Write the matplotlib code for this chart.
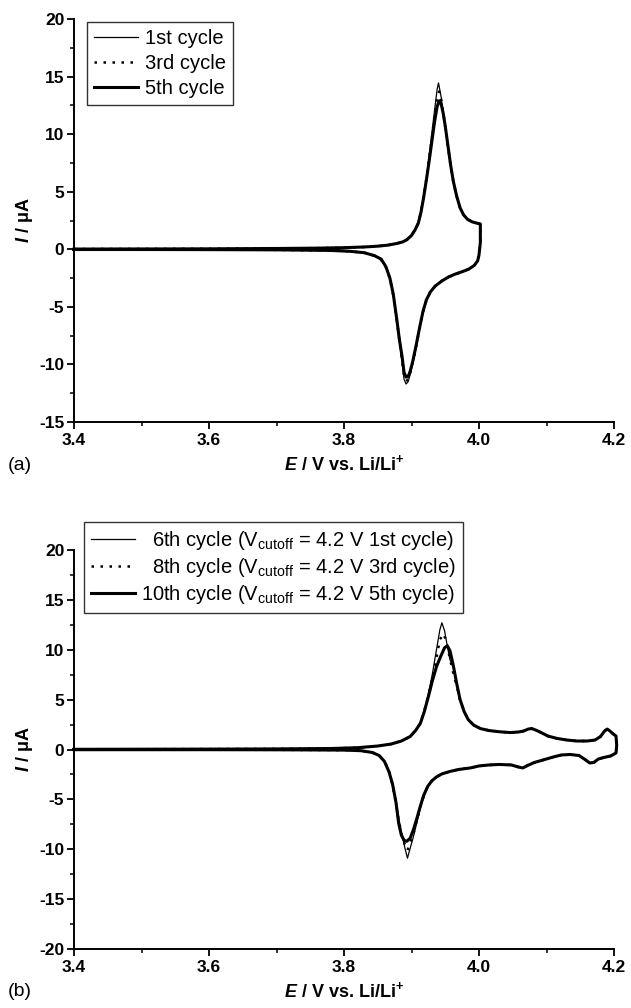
import matplotlib

matplotlib.use("Agg")
import matplotlib.pyplot as plt
from matplotlib.ticker import MultipleLocator, FormatStrFormatter

# ---- panel (a): cycles 1, 3, 5 (E in V, I in uA) ----
a_v1 = [3.40, 3.50, 3.60, 3.70, 3.76, 3.80, 3.83, 3.85, 3.865, 3.878, 3.887, 3.893, 3.900, 3.905, 3.910,
        3.914, 3.918, 3.922, 3.926, 3.930, 3.934, 3.938, 3.940, 3.944, 3.947, 3.950, 3.954, 3.958, 3.962,
        3.967, 3.972, 3.977, 3.983, 3.990, 3.996, 4.002,
        4.002, 4.000, 3.998, 3.993, 3.985, 3.975, 3.965, 3.955, 3.945, 3.935, 3.928, 3.922, 3.917, 3.912,
        3.907, 3.902, 3.898, 3.895, 3.892, 3.889, 3.886, 3.882, 3.878, 3.873, 3.868, 3.862, 3.855, 3.845,
        3.83, 3.81, 3.78, 3.70, 3.60, 3.50, 3.40]
a_i1 = [0.02, 0.03, 0.04, 0.07, 0.10, 0.14, 0.20, 0.27, 0.36, 0.50, 0.66, 0.85, 1.25, 1.72, 2.35,
        3.35, 4.70, 6.20, 8.00, 10.00, 12.00, 13.90, 14.45, 13.20, 11.80, 10.50, 8.80, 7.20, 5.80,
        4.55, 3.55, 2.98, 2.60, 2.38, 2.28, 2.20,
        0.60, -0.50, -1.00, -1.40, -1.72, -1.95, -2.15, -2.40, -2.75, -3.20, -3.70, -4.45, -5.50, -6.90,
        -8.50, -9.90, -10.90, -11.50, -11.70, -11.30, -9.80, -8.00, -6.10, -4.00, -2.60, -1.55, -0.90, -0.55,
        -0.30, -0.18, -0.10, -0.05, -0.03, -0.02, -0.02]

a_v3 = [3.40, 3.50, 3.60, 3.70, 3.76, 3.80, 3.83, 3.85, 3.865, 3.878, 3.887, 3.893, 3.900, 3.905, 3.910,
        3.914, 3.918, 3.922, 3.926, 3.930, 3.934, 3.938, 3.941, 3.944, 3.947, 3.950, 3.954, 3.958, 3.962,
        3.967, 3.972, 3.977, 3.983, 3.990, 3.996, 4.002,
        4.002, 4.000, 3.998, 3.993, 3.985, 3.975, 3.965, 3.955, 3.945, 3.935, 3.928, 3.922, 3.917, 3.912,
        3.907, 3.902, 3.898, 3.895, 3.892, 3.889, 3.886, 3.882, 3.878, 3.873, 3.868, 3.862, 3.855, 3.845,
        3.83, 3.81, 3.78, 3.70, 3.60, 3.50, 3.40]
a_i3 = [0.02, 0.03, 0.04, 0.07, 0.10, 0.14, 0.20, 0.27, 0.36, 0.50, 0.65, 0.83, 1.22, 1.68, 2.30,
        3.25, 4.60, 6.10, 7.80, 9.60, 11.50, 13.20, 13.70, 13.00, 11.90, 10.60, 8.90, 7.25, 5.85,
        4.58, 3.58, 3.00, 2.60, 2.38, 2.28, 2.20,
        0.60, -0.50, -1.00, -1.40, -1.72, -1.95, -2.15, -2.40, -2.75, -3.20, -3.70, -4.42, -5.45, -6.85,
        -8.40, -9.80, -10.75, -11.30, -11.45, -11.00, -9.55, -7.90, -6.05, -4.00, -2.55, -1.55, -0.90, -0.55,
        -0.30, -0.18, -0.10, -0.05, -0.03, -0.02, -0.02]

a_v5 = [3.40, 3.50, 3.60, 3.70, 3.76, 3.80, 3.83, 3.85, 3.865, 3.878, 3.887, 3.893, 3.900, 3.905, 3.910,
        3.914, 3.918, 3.922, 3.926, 3.930, 3.934, 3.938, 3.941, 3.944, 3.947, 3.950, 3.954, 3.958, 3.962,
        3.967, 3.972, 3.977, 3.983, 3.990, 3.996, 4.002,
        4.002, 4.000, 3.998, 3.993, 3.985, 3.975, 3.965, 3.955, 3.945, 3.935, 3.928, 3.922, 3.917, 3.912,
        3.907, 3.902, 3.898, 3.895, 3.892, 3.889, 3.886, 3.882, 3.878, 3.873, 3.868, 3.862, 3.855, 3.845,
        3.83, 3.81, 3.78, 3.70, 3.60, 3.50, 3.40]
a_i5 = [0.02, 0.03, 0.04, 0.07, 0.10, 0.14, 0.20, 0.27, 0.36, 0.50, 0.64, 0.82, 1.20, 1.65, 2.25,
        3.20, 4.50, 6.00, 7.60, 9.30, 11.00, 12.40, 12.90, 12.60, 11.80, 10.70, 9.00, 7.30, 5.90,
        4.60, 3.60, 3.00, 2.60, 2.38, 2.28, 2.20,
        0.60, -0.50, -1.00, -1.40, -1.72, -1.95, -2.15, -2.40, -2.75, -3.20, -3.70, -4.40, -5.40, -6.80,
        -8.30, -9.70, -10.60, -11.05, -11.10, -10.70, -9.30, -7.80, -6.00, -3.90, -2.50, -1.50, -0.85, -0.55,
        -0.30, -0.18, -0.10, -0.05, -0.03, -0.02, -0.02]

# ---- panel (b): cycles 6, 8, 10 after 4.2 V cutoff ----
b_v6 = [3.40, 3.50, 3.60, 3.70, 3.78, 3.82, 3.85, 3.87, 3.885, 3.898, 3.906, 3.913, 3.919, 3.925, 3.931,
        3.937, 3.942, 3.945, 3.949, 3.953, 3.957, 3.962, 3.967, 3.972, 3.978, 3.984, 3.992, 4.002, 4.015,
        4.030, 4.046, 4.058, 4.066, 4.073, 4.078, 4.084, 4.092, 4.102, 4.115, 4.130, 4.145, 4.160, 4.172,
        4.180, 4.186, 4.190, 4.194, 4.199, 4.203,
        4.204, 4.203, 4.195, 4.185, 4.177, 4.170, 4.164, 4.157, 4.148, 4.135, 4.122, 4.110, 4.095, 4.082,
        4.072, 4.065, 4.058, 4.048, 4.030, 4.015, 4.000, 3.987, 3.970, 3.957, 3.945, 3.937, 3.930, 3.924,
        3.918, 3.913, 3.908, 3.903, 3.898, 3.894, 3.890, 3.885, 3.881, 3.877, 3.872, 3.867, 3.860, 3.852,
        3.842, 3.825, 3.80, 3.70, 3.60, 3.50, 3.40]
b_i6 = [0.02, 0.03, 0.04, 0.06, 0.10, 0.18, 0.35, 0.55, 0.85, 1.30, 1.95, 2.70, 3.95, 5.60, 7.60,
        10.00, 12.00, 12.70, 11.90, 10.40, 9.00, 8.20, 6.50, 4.95, 3.78, 3.00, 2.45, 2.10, 1.90,
        1.78, 1.70, 1.75, 1.85, 2.05, 2.10, 1.95, 1.70, 1.35, 1.12, 0.95, 0.85, 0.85, 0.95,
        1.30, 1.85, 2.05, 1.85, 1.55, 1.35,
        0.40, -0.35, -0.65, -0.80, -0.95, -1.30, -1.35, -1.00, -0.60, -0.50, -0.55, -0.75, -1.05, -1.30,
        -1.60, -1.85, -1.75, -1.55, -1.50, -1.55, -1.65, -1.85, -2.00, -2.20, -2.45, -2.75, -3.15, -3.75,
        -4.75, -5.90, -7.30, -8.70, -9.90, -10.90, -9.80, -8.30, -6.90, -5.10, -3.40, -2.20, -1.15, -0.60,
        -0.30, -0.12, -0.06, -0.03, -0.02, -0.02, -0.02]

b_v8 = [3.40, 3.50, 3.60, 3.70, 3.78, 3.82, 3.85, 3.87, 3.885, 3.898, 3.906, 3.913, 3.919, 3.925, 3.931,
        3.937, 3.942, 3.947, 3.951, 3.955, 3.959, 3.963, 3.967, 3.972, 3.978, 3.984, 3.992, 4.002, 4.015,
        4.030, 4.046, 4.058, 4.066, 4.073, 4.078, 4.084, 4.092, 4.102, 4.115, 4.130, 4.145, 4.160, 4.172,
        4.180, 4.186, 4.190, 4.194, 4.199, 4.203,
        4.204, 4.203, 4.195, 4.185, 4.177, 4.170, 4.164, 4.157, 4.148, 4.135, 4.122, 4.110, 4.095, 4.082,
        4.072, 4.065, 4.058, 4.048, 4.030, 4.015, 4.000, 3.987, 3.970, 3.957, 3.945, 3.937, 3.930, 3.924,
        3.918, 3.913, 3.908, 3.903, 3.898, 3.894, 3.890, 3.885, 3.881, 3.877, 3.872, 3.867, 3.860, 3.852,
        3.842, 3.825, 3.80, 3.70, 3.60, 3.50, 3.40]
b_i8 = [0.02, 0.03, 0.04, 0.06, 0.10, 0.18, 0.35, 0.55, 0.85, 1.30, 1.92, 2.65, 3.90, 5.45, 7.20,
        9.20, 11.00, 11.60, 11.00, 9.70, 8.50, 7.30, 6.40, 4.95, 3.78, 3.00, 2.45, 2.10, 1.90,
        1.78, 1.70, 1.75, 1.85, 2.05, 2.10, 1.95, 1.70, 1.35, 1.12, 0.95, 0.85, 0.85, 0.95,
        1.30, 1.85, 2.05, 1.85, 1.55, 1.35,
        0.40, -0.35, -0.65, -0.80, -0.95, -1.30, -1.35, -1.00, -0.60, -0.50, -0.55, -0.75, -1.05, -1.30,
        -1.60, -1.85, -1.75, -1.55, -1.50, -1.55, -1.65, -1.85, -2.00, -2.20, -2.45, -2.75, -3.15, -3.72,
        -4.70, -5.80, -7.10, -8.40, -9.40, -10.10, -9.50, -8.40, -7.10, -5.40, -3.60, -2.25, -1.18, -0.60,
        -0.30, -0.12, -0.06, -0.03, -0.02, -0.02, -0.02]

b_v10 = [3.40, 3.50, 3.60, 3.70, 3.78, 3.82, 3.85, 3.87, 3.885, 3.898, 3.906, 3.913, 3.919, 3.925, 3.931,
         3.937, 3.943, 3.949, 3.953, 3.957, 3.962, 3.967, 3.972, 3.978, 3.984, 3.992, 4.002, 4.015, 4.030,
         4.046, 4.058, 4.066, 4.073, 4.078, 4.084, 4.092, 4.102, 4.115, 4.130, 4.145, 4.160, 4.172, 4.180,
         4.186, 4.190, 4.194, 4.199, 4.203,
         4.204, 4.203, 4.195, 4.185, 4.177, 4.170, 4.164, 4.157, 4.148, 4.135, 4.122, 4.110, 4.095, 4.082,
         4.072, 4.065, 4.058, 4.048, 4.030, 4.015, 4.000, 3.987, 3.970, 3.957, 3.945, 3.937, 3.930, 3.924,
         3.918, 3.913, 3.908, 3.903, 3.898, 3.893, 3.889, 3.885, 3.881, 3.877, 3.872, 3.867, 3.860, 3.852,
         3.842, 3.825, 3.80, 3.70, 3.60, 3.50, 3.40]
b_i10 = [0.02, 0.03, 0.04, 0.06, 0.10, 0.18, 0.35, 0.55, 0.85, 1.30, 1.90, 2.60, 3.80, 5.30, 6.90,
         8.30, 9.30, 10.20, 10.40, 9.90, 8.40, 6.60, 5.00, 3.80, 3.00, 2.45, 2.10, 1.90, 1.78,
         1.70, 1.75, 1.85, 2.05, 2.10, 1.95, 1.70, 1.35, 1.12, 0.95, 0.85, 0.85, 0.95, 1.30,
         1.85, 2.05, 1.85, 1.55, 1.35,
         0.40, -0.35, -0.65, -0.80, -0.95, -1.30, -1.35, -1.00, -0.60, -0.50, -0.55, -0.75, -1.05, -1.30,
         -1.60, -1.85, -1.75, -1.55, -1.50, -1.55, -1.65, -1.85, -2.00, -2.20, -2.45, -2.75, -3.15, -3.70,
         -4.60, -5.70, -6.90, -8.00, -8.90, -9.20, -9.10, -8.60, -7.40, -5.30, -3.50, -2.30, -1.20, -0.60,
         -0.30, -0.12, -0.06, -0.03, -0.02, -0.02, -0.02]

a_labels = ["1st cycle", "3rd cycle", "5th cycle"]
b_labels = ["\u20076th cycle (V$_{\\mathrm{cutoff}}$ = 4.2 V 1st cycle)",
            "\u20078th cycle (V$_{\\mathrm{cutoff}}$ = 4.2 V 3rd cycle)",
            "10th cycle (V$_{\\mathrm{cutoff}}$ = 4.2 V 5th cycle)"]
x_ticks = [3.4, 3.6, 3.8, 4.0, 4.2]

plt.rcParams["font.family"] = ["Liberation Sans", "DejaVu Sans"]
plt.rcParams["axes.unicode_minus"] = False
plt.rcParams["mathtext.fontset"] = "custom"
plt.rcParams["mathtext.rm"] = "Liberation Sans"
plt.rcParams["mathtext.it"] = "Liberation Sans:italic:bold"
plt.rcParams["mathtext.bf"] = "Liberation Sans:bold"

W, H = 631, 1008
fig = plt.figure(figsize=(W / 100, H / 100), dpi=100)

styles = [dict(color="black", lw=0.9, ls="-"),
          dict(color="black", lw=1.8, ls=(0, (1.0, 2.6))),
          dict(color="black", lw=2.2, ls="-")]


def setup(ax, ylim):
    ax.set_xlim(3.4, 4.2)
    ax.set_ylim(*ylim)
    ax.set_xticks(x_ticks)
    ax.xaxis.set_major_formatter(FormatStrFormatter("%.1f"))
    ax.xaxis.set_minor_locator(MultipleLocator(0.1))
    ax.yaxis.set_major_locator(MultipleLocator(5))
    ax.yaxis.set_minor_locator(MultipleLocator(2.5))
    ax.spines["top"].set_visible(False)
    ax.spines["right"].set_visible(False)
    for s in ("left", "bottom"):
        ax.spines[s].set_linewidth(1.4)
    ax.tick_params(which="major", direction="out", length=5, width=1.3, labelsize=12.5, pad=2)
    ax.tick_params(which="minor", direction="out", length=3, width=1.1)
    ax.tick_params(axis="x", which="major", pad=3)
    for lab in ax.get_xticklabels() + ax.get_yticklabels():
        lab.set_fontweight("bold")
    ax.set_xlabel("$E$ / V vs. Li/Li$^{\\mathbf{+}}$", fontsize=13, fontweight="bold", labelpad=4)
    ax.set_ylabel("$I$ / \u03bcA", fontsize=13, fontweight="bold", labelpad=3)


# panel (a)
ax1 = fig.add_axes([74 / W, 1 - 422 / H, 540 / W, 403 / H])
for v, i, lab, st in zip([a_v1, a_v3, a_v5], [a_i1, a_i3, a_i5], a_labels, styles):
    ax1.plot(v, i, label=lab, clip_on=False, **st)
setup(ax1, (-15, 20))
leg1 = ax1.legend(loc="upper left", bbox_to_anchor=(87 / W, 1 - 22 / H), bbox_transform=fig.transFigure,
                  borderaxespad=0, fontsize=14.5, frameon=True, fancybox=False, edgecolor="black",
                  handlelength=2.2, handletextpad=0.35, labelspacing=0.3, borderpad=0.35)
leg1.get_frame().set_linewidth(1.0)
fig.text(8 / W, 1 - 465 / H, "(a)", fontsize=14, va="center", ha="left")

# panel (b)
ax2 = fig.add_axes([74 / W, 1 - 949 / H, 540 / W, 399 / H])
for v, i, lab, st in zip([b_v6, b_v8, b_v10], [b_i6, b_i8, b_i10], b_labels, styles):
    ax2.plot(v, i, label=lab, clip_on=False, **st)
setup(ax2, (-20, 20))
leg2 = ax2.legend(loc="upper left", bbox_to_anchor=(84 / W, 1 - 522 / H), bbox_transform=fig.transFigure,
                  borderaxespad=0, fontsize=14.5, frameon=True, fancybox=False, edgecolor="black",
                  handlelength=2.2, handletextpad=0.3, labelspacing=0.2, borderpad=0.35)
leg2.get_frame().set_linewidth(1.0)
fig.text(8 / W, 1 - 991 / H, "(b)", fontsize=14, va="center", ha="left")

fig.savefig("out.png", dpi=100)
